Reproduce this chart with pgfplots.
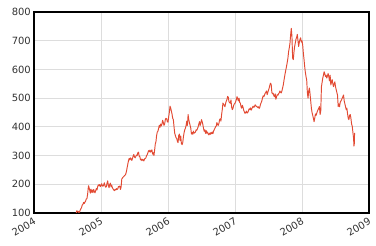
\documentclass[border=0pt]{standalone}
\usepackage{fontspec}
\setmainfont{DejaVu Sans}
\usepackage{pgfplots}
\pgfplotsset{compat=1.18}
\definecolor{line}{HTML}{E24A33}
\definecolor{gridc}{HTML}{DDDDDD}
\definecolor{txt}{HTML}{333333}
\begin{document}
\begin{tikzpicture}
\begin{axis}[
  scale only axis, width=335bp, height=201bp,
  xmin=2004, xmax=2009, ymin=100, ymax=800,
  xtick={2004,2005,2006,2007,2008,2009},
  xticklabels={2004,2005,2006,2007,2008,2009},
  ytick={100,200,300,400,500,600,700,800},
  grid=major, major grid style={gridc, line width=0.8bp},
  axis line style={black, line width=1.1bp},
  tick style={draw=none},
  ticklabel style={font=\fontsize{10}{12}\selectfont, text=txt},
  /pgf/number format/assume math mode=true,
  xticklabel style={rotate=30, anchor=north east, inner sep=1bp, yshift=-2bp, xshift=-2bp},
  yticklabel style={inner sep=1bp, xshift=-2bp},
  scaled x ticks=false,
]
\addplot[line, line width=0.95bp, line join=round] table {
2004.630 100.3
2004.640 108
2004.650 104
2004.660 106
2004.670 101
2004.680 104
2004.690 110
2004.700 115
2004.710 119
2004.720 128
2004.730 130
2004.740 137
2004.750 133
2004.760 138
2004.770 141
2004.780 149
2004.790 150
2004.800 165
2004.810 188
2004.815 195
2004.820 190
2004.830 181
2004.840 169
2004.850 183
2004.860 172
2004.870 180
2004.880 171
2004.890 182
2004.900 176
2004.910 170
2004.920 178
2004.930 185
2004.940 180
2004.950 192
2004.960 198
2004.970 195
2004.980 199
2004.990 192
2005.000 196
2005.010 202
2005.020 194
2005.030 193
2005.040 198
2005.050 205
2005.060 195
2005.070 190
2005.080 192
2005.090 204
2005.100 212
2005.110 196
2005.120 188
2005.130 199
2005.140 204
2005.150 191
2005.160 197
2005.170 188
2005.180 184
2005.190 180
2005.200 178
2005.210 182
2005.220 180
2005.230 185
2005.240 182
2005.250 184
2005.260 192
2005.270 191
2005.280 194
2005.290 182
2005.300 190
2005.310 218
2005.320 222
2005.330 225
2005.340 227
2005.350 230
2005.360 232
2005.370 236
2005.380 245
2005.390 258
2005.400 270
2005.410 282
2005.420 290
2005.430 285
2005.440 292
2005.450 288
2005.460 283
2005.470 290
2005.480 298
2005.490 304
2005.500 295
2005.510 292
2005.520 297
2005.530 302
2005.540 300
2005.550 310
2005.560 312
2005.570 298
2005.580 296
2005.590 285
2005.600 288
2005.610 282
2005.620 287
2005.630 285
2005.640 281
2005.650 288
2005.660 290
2005.670 292
2005.680 300
2005.690 303
2005.700 310
2005.710 317
2005.720 313
2005.730 319
2005.740 312
2005.750 316
2005.760 320
2005.770 305
2005.780 310
2005.790 300
2005.800 318
2005.810 340
2005.820 348
2005.830 370
2005.840 382
2005.850 385
2005.860 395
2005.870 405
2005.880 398
2005.890 410
2005.900 403
2005.910 410
2005.920 423
2005.930 415
2005.940 405
2005.950 410
2005.960 425
2005.970 430
2005.980 428
2005.990 418
2006.000 416
2006.010 435
2006.020 450
2006.030 472
2006.040 466
2006.050 455
2006.060 445
2006.070 430
2006.080 425
2006.090 400
2006.100 378
2006.110 370
2006.120 362
2006.130 360
2006.140 350
2006.150 345
2006.160 370
2006.170 375
2006.180 352
2006.190 368
2006.200 342
2006.210 338
2006.220 345
2006.230 365
2006.240 380
2006.250 390
2006.260 395
2006.270 405
2006.280 420
2006.290 405
2006.300 443
2006.310 425
2006.320 415
2006.330 405
2006.340 395
2006.350 375
2006.360 380
2006.370 374
2006.380 385
2006.390 378
2006.400 380
2006.410 382
2006.420 390
2006.430 388
2006.440 394
2006.450 400
2006.460 410
2006.470 418
2006.480 405
2006.490 413
2006.500 425
2006.510 418
2006.520 408
2006.530 395
2006.540 385
2006.550 390
2006.560 377
2006.570 387
2006.580 378
2006.590 382
2006.600 375
2006.610 372
2006.620 378
2006.630 374
2006.640 380
2006.650 376
2006.660 382
2006.670 376
2006.680 385
2006.690 390
2006.700 395
2006.710 400
2006.720 403
2006.730 415
2006.740 408
2006.750 405
2006.760 412
2006.770 425
2006.780 428
2006.790 420
2006.800 443
2006.810 460
2006.820 483
2006.830 478
2006.840 475
2006.850 470
2006.860 482
2006.870 490
2006.880 495
2006.890 506
2006.900 503
2006.910 488
2006.920 484
2006.930 482
2006.940 494
2006.950 468
2006.960 460
2006.970 465
2006.980 475
2006.990 480
2007.000 482
2007.010 488
2007.020 495
2007.030 505
2007.040 498
2007.050 490
2007.060 500
2007.070 485
2007.080 483
2007.090 470
2007.100 465
2007.110 475
2007.120 468
2007.130 458
2007.140 452
2007.150 447
2007.160 450
2007.170 455
2007.180 448
2007.190 450
2007.200 455
2007.210 463
2007.220 460
2007.230 466
2007.240 458
2007.250 462
2007.260 468
2007.270 472
2007.280 468
2007.290 470
2007.300 477
2007.310 474
2007.320 471
2007.330 470
2007.340 467
2007.350 470
2007.360 464
2007.370 468
2007.380 478
2007.390 484
2007.400 490
2007.410 500
2007.420 508
2007.430 505
2007.440 510
2007.450 517
2007.460 520
2007.470 525
2007.480 512
2007.490 520
2007.500 528
2007.510 535
2007.520 545
2007.530 552
2007.540 548
2007.550 520
2007.560 515
2007.570 517
2007.580 508
2007.590 505
2007.600 515
2007.610 496
2007.620 505
2007.630 512
2007.640 510
2007.650 515
2007.660 518
2007.670 525
2007.680 520
2007.690 518
2007.700 525
2007.710 535
2007.720 545
2007.730 560
2007.740 575
2007.750 588
2007.760 600
2007.770 612
2007.780 625
2007.790 640
2007.800 662
2007.810 675
2007.820 690
2007.830 720
2007.840 743
2007.850 715
2007.860 640
2007.870 634
2007.880 660
2007.890 680
2007.900 692
2007.910 705
2007.920 712
2007.930 722
2007.940 700
2007.950 680
2007.960 695
2007.970 705
2007.980 710
2007.990 695
2008.000 700
2008.010 685
2008.020 657
2008.030 635
2008.040 610
2008.050 590
2008.060 575
2008.070 563
2008.080 520
2008.090 500
2008.100 525
2008.110 535
2008.120 515
2008.130 490
2008.140 465
2008.150 450
2008.160 440
2008.170 430
2008.180 418
2008.190 430
2008.200 445
2008.210 440
2008.220 448
2008.230 455
2008.240 460
2008.250 465
2008.260 471
2008.270 443
2008.280 455
2008.290 540
2008.300 555
2008.310 570
2008.320 580
2008.330 592
2008.340 585
2008.350 575
2008.360 580
2008.370 570
2008.380 578
2008.390 586
2008.400 575
2008.410 560
2008.420 580
2008.430 546
2008.440 555
2008.450 565
2008.460 550
2008.470 540
2008.480 550
2008.490 557
2008.500 540
2008.510 530
2008.520 520
2008.530 510
2008.540 471
2008.550 480
2008.560 470
2008.570 485
2008.580 490
2008.590 494
2008.600 500
2008.610 505
2008.620 511
2008.630 490
2008.640 480
2008.650 470
2008.660 460
2008.670 465
2008.680 445
2008.690 430
2008.700 425
2008.710 440
2008.720 443
2008.730 430
2008.740 410
2008.750 402
2008.760 380
2008.770 360
2008.775 333
2008.780 340
2008.785 379
};
\end{axis}
\pgfresetboundingbox
\path ([shift={(-34bp,-33bp)}]current axis.south west) rectangle ([shift={(7bp,12bp)}]current axis.north east);
\end{tikzpicture}
\end{document}
